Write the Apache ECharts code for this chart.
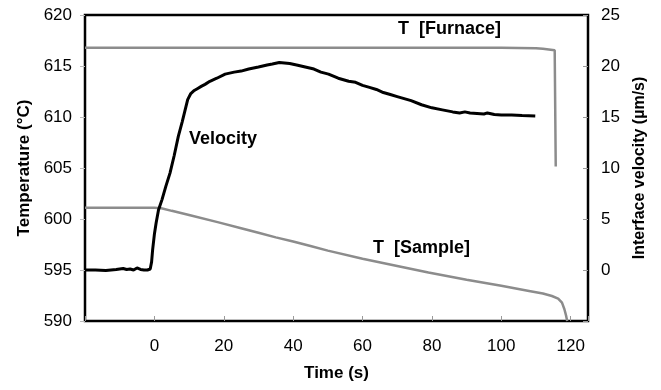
<!DOCTYPE html>
<html>
<head>
<meta charset="utf-8">
<script src="https://cdn.jsdelivr.net/npm/echarts@6/dist/echarts.min.js"></script>
<style>
  html, body { margin: 0; padding: 0; background: #fff; }
  #chart { width: 661px; height: 390px; }
</style>
</head>
<body>
<div id="chart"></div>
<script>
// interface velocity (um/s), right axis
const velTime = [-20, -17, -14, -11, -9, -8, -7, -6, -5, -4, -3, -2, -1.2, -0.8, -0.5, 0, 0.5, 1.2, 2.2,
  3.3, 4.5, 5.7, 6.9, 8, 8.8, 9.6, 10.5, 11.5, 12.5, 13.5, 14.6, 16, 18, 20.4, 23, 25, 27.2, 30, 32.5,
  34, 36, 37.5, 39, 41, 43.5, 46, 48, 50.2, 53, 56, 58, 60, 62, 64, 66, 68, 70, 72, 74, 77, 80, 83,
  86, 88, 89.5, 91, 93, 95, 96, 98, 100, 103, 106, 109.8];
const velocity = [0, 0, -0.05, 0.05, 0.15, 0.05, 0.1, 0, 0.2, 0.05, 0, 0, 0.1, 0.8, 2.0, 3.5, 4.6, 5.9, 6.9,
  8.2, 9.5, 11.2, 13.1, 14.5, 15.6, 16.7, 17.3, 17.6, 17.8, 18.0, 18.2, 18.5, 18.8, 19.2, 19.4, 19.5, 19.7, 19.9, 20.1,
  20.2, 20.35, 20.3, 20.25, 20.1, 19.9, 19.7, 19.4, 19.2, 18.8, 18.5, 18.4, 18.1, 17.9, 17.7, 17.4, 17.2, 17.0, 16.8, 16.6, 16.2, 15.9, 15.7,
  15.5, 15.4, 15.5, 15.4, 15.35, 15.3, 15.4, 15.25, 15.2, 15.2, 15.15, 15.1];

// sample temperature (C), left axis
const sampleTime = [-20, 0, 2, 5, 10, 18.5, 25, 30, 35, 40, 45, 50, 60, 70, 79, 90, 100, 108, 112,
  114.6, 116.4, 117.5, 118.2, 118.7, 119];
const sampleTemp = [601.1, 601.1, 601.05, 600.8, 600.4, 599.67, 599.1, 598.65, 598.2, 597.8, 597.35, 596.9,
  596.1, 595.4, 594.75, 594.05, 593.45, 592.95, 592.7, 592.45, 592.2, 591.8, 591.15, 590.5, 590];

// furnace temperature (C), left axis
const furnaceTime = [-20, 0, 20, 40, 60, 80, 100, 110, 112, 115.4, 115.7];
const furnaceTemp = [616.8, 616.8, 616.78, 616.8, 616.78, 616.8, 616.78, 616.75, 616.7, 616.55, 605.15];

const xTicks = [0, 20, 40, 60, 80, 100, 120];
const velTicks = [0, 5, 10, 15, 20, 25];

const zip = (a, b) => a.map((v, i) => [v, b[i]]);
const font = 'Liberation Sans, Arial, Helvetica, sans-serif';

const chart = echarts.init(document.getElementById('chart'));
chart.setOption({
  animation: false,
  backgroundColor: '#fff',
  textStyle: { fontFamily: font },
  grid: {
    left: 85, right: 73, top: 15, bottom: 69,
    show: true, borderColor: '#000', borderWidth: 2.5
  },
  xAxis: {
    type: 'value', min: -20, max: 125, interval: 20,
    name: 'Time (s)', nameLocation: 'middle', nameGap: 44,
    nameTextStyle: { fontSize: 17, fontWeight: 'bold', color: '#000' },
    axisLine: { show: false, onZero: false },
    axisTick: { show: true, inside: true, length: 5, lineStyle: { color: '#999', width: 1 } },
    axisLabel: {
      fontSize: 17, color: '#000', margin: 17,
      formatter: (v) => (xTicks.includes(v) ? String(v) : '')
    },
    splitLine: { show: false }
  },
  yAxis: [
    {
      type: 'value', min: 590, max: 620, interval: 5,
      name: 'Temperature (°C)', nameLocation: 'middle', nameGap: 50, nameRotate: 90,
      nameTextStyle: { fontSize: 17, fontWeight: 'bold', color: '#000' },
      axisLine: { show: false, onZero: false },
      axisTick: { show: true, length: 5, lineStyle: { color: '#bbb', width: 1 } },
      axisLabel: { fontSize: 17, color: '#000', margin: 13 },
      splitLine: { show: false }
    },
    {
      type: 'value', min: -5, max: 25, interval: 5, position: 'right',
      name: 'Interface velocity (µm/s)', nameLocation: 'middle', nameGap: 44, nameRotate: 90,
      nameTextStyle: { fontSize: 16, fontWeight: 'bold', color: '#000' },
      axisLine: { show: false, onZero: false },
      axisTick: { show: true, inside: true, length: 5, lineStyle: { color: '#999', width: 1 } },
      axisLabel: {
        fontSize: 17, color: '#000', margin: 13,
        formatter: (v) => (velTicks.includes(v) ? String(v) : '')
      },
      splitLine: { show: false }
    }
  ],
  series: [
    {
      name: 'T [Furnace]', type: 'line', yAxisIndex: 0, symbol: 'none',
      data: zip(furnaceTime, furnaceTemp),
      lineStyle: { color: '#8c8c8c', width: 2.5 }
    },
    {
      name: 'T [Sample]', type: 'line', yAxisIndex: 0, symbol: 'none',
      data: zip(sampleTime, sampleTemp),
      lineStyle: { color: '#8c8c8c', width: 2.5 }
    },
    {
      name: 'Velocity', type: 'line', yAxisIndex: 1, symbol: 'none',
      data: zip(velTime, velocity),
      lineStyle: { color: '#000', width: 3 }
    }
  ],
  graphic: [
    { type: 'text', left: 189, top: 130, style: { text: 'Velocity', font: 'bold 18px ' + font, fill: '#000' } },
    { type: 'text', left: 398, top: 20, style: { text: 'T  [Furnace]', font: 'bold 18px ' + font, fill: '#000' } },
    { type: 'text', left: 373, top: 239, style: { text: 'T  [Sample]', font: 'bold 18px ' + font, fill: '#000' } }
  ]
});
</script>
</body>
</html>
